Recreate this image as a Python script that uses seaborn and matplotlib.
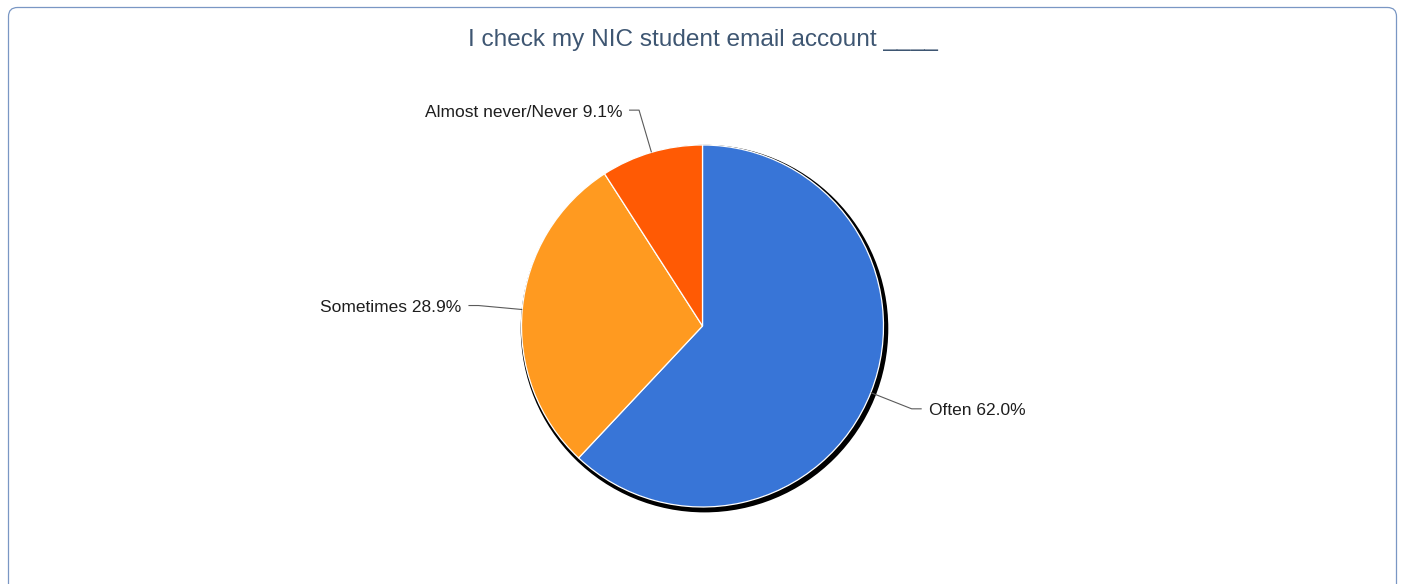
import numpy as np
import matplotlib
matplotlib.use("Agg")
import matplotlib.pyplot as plt
from matplotlib.patches import Circle, FancyBboxPatch
import seaborn as sns

# Survey responses
categories = ["Often", "Sometimes", "Almost never/Never"]
percentages = [62.0, 28.9, 9.1]
slice_colors = ["#3875d7", "#ff9a20", "#ff5a04"]
title_text = "I check my NIC student email account ____"

sns.set_theme(style="white")
plt.rcParams["font.family"] = ["Liberation Sans", "DejaVu Sans"]

W, H = 1401, 584
fig = plt.figure(figsize=(W / 100, H / 100), dpi=100)
ax = fig.add_axes([0, 0, 1, 1])

# geometry in pixel units (y up)
cx, cy, R = 702.5, H - 326, 181

palette = sns.color_palette(slice_colors)
wedges, _ = ax.pie(
    percentages,
    colors=palette,
    startangle=90,
    counterclock=False,
    center=(cx, cy),
    radius=R,
    wedgeprops=dict(edgecolor="white", linewidth=0.9, zorder=2),
)

# dark drop shadow / rim behind the pie
ax.add_patch(Circle((cx + 2.0, cy - 2.6), R + 2.8, facecolor="black",
                    edgecolor="none", zorder=1))

# leader lines and labels
knee_r = R + 44
tail = 10
gap = 7
for w, cat, pct in zip(wedges, categories, percentages):
    mid = np.deg2rad((w.theta1 + w.theta2) / 2)
    ex, ey = cx + R * np.cos(mid), cy + R * np.sin(mid)
    kx, ky = cx + knee_r * np.cos(mid), cy + knee_r * np.sin(mid)
    side = 1 if np.cos(mid) >= 0 else -1
    tx = kx + side * tail
    ax.plot([ex, kx, tx], [ey, ky, ky], color="#5a5a5a", lw=0.8,
            solid_capstyle="butt", zorder=3)
    ax.text(tx + side * gap, ky - 2, f"{cat} {pct:.1f}%",
            ha="left" if side > 0 else "right", va="center",
            fontsize=12.5, color="#1e1e1e", zorder=4)

ax.set_xlim(0, W)
ax.set_ylim(0, H)
ax.set_aspect("equal")
ax.axis("off")

# rounded panel border
ax.add_patch(FancyBboxPatch((8.5, -30), W - 13, H - 7.5 + 30,
                            boxstyle="round,pad=0,rounding_size=9",
                            facecolor="none", edgecolor="#7a97c4",
                            linewidth=0.9, zorder=0))

ax.text(W / 2 + 2, H - 40, title_text, ha="center", va="center",
        fontsize=17.6, color="#3e5672")

fig.savefig("out.png", dpi=100, facecolor="white")
